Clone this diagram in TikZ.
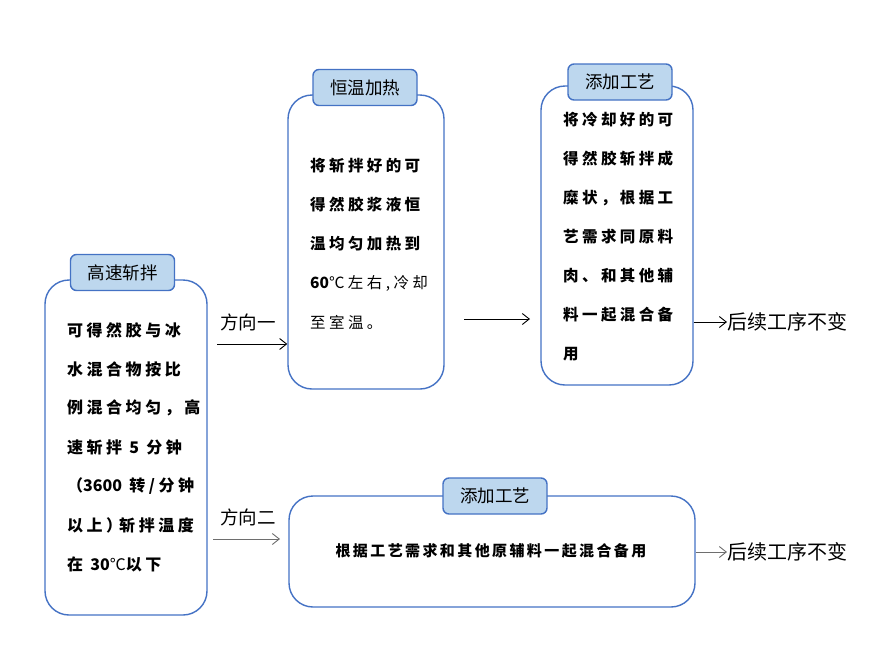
\documentclass[tikz,border=0pt]{standalone}
\usepackage{fontspec}
\usetikzlibrary{arrows.meta}
\newfontfamily\cjk{Noto Sans CJK SC}
\definecolor{boxblue}{RGB}{68,114,196}
\definecolor{tabfill}{RGB}{189,215,238}
\definecolor{arrgray}{RGB}{110,110,110}
\newcommand{\nsp}[1]{{\addfontfeature{LetterSpace=0}#1}}
\tikzset{
  bigbox/.style={draw=boxblue, line width=1.4pt, rounded corners=24pt, inner sep=0pt},
  tab/.style={draw=boxblue, fill=tabfill, line width=1.4pt, rounded corners=6pt, minimum width=104pt, minimum height=36pt, inner sep=0pt, font=\cjk\fontsize{17.5}{20}\selectfont},
  body/.style={anchor=west, inner sep=0pt, font=\cjk\bfseries\fontsize{15.5}{18}\selectfont\addfontfeature{LetterSpace=22}},
  lbl/.style={inner sep=0pt, font=\cjk\fontsize{18.5}{20}\selectfont},
  arr/.style={line width=0.9pt, -{Straight Barb[length=7pt,width=11pt]}},
}
\begin{document}
\begin{tikzpicture}[x=1pt,y=-1pt]
\useasboundingbox (0,0) rectangle (876,651);
% boxes
\node[bigbox, minimum width=162pt, minimum height=335pt] (b1) at (126,447.5) {};
\node[bigbox, minimum width=156pt, minimum height=294pt] (b2) at (366,242) {};
\node[bigbox, minimum width=152pt, minimum height=299pt] (b3) at (617,235.5) {};
\node[bigbox, minimum width=406pt, minimum height=111pt] (b4) at (492,551.5) {};
% tabs
\node[tab] (t1) at (122.5,272.5) {高速斩拌};
\node[tab] (t2) at (365,87.5) {恒温加热};
\node[tab] (t3) at (620,82) {添加工艺};
\node[tab] (t4) at (495,496) {添加工艺};
% left text
\foreach \t [count=\i] in {可得然胶与冰,水混合物按比,例混合均匀，高,速斩拌 \nsp{5} 分钟,（\nsp{3600} 转/分钟,以上）\kern-3pt 斩拌温度,{在 \nsp{30}{\mdseries\nsp{℃}}以下}}
  \node[body, font=\cjk\bfseries\fontsize{16}{18}\selectfont\addfontfeature{LetterSpace=22}] (la\i) at (67,330+39*\i-39) {\t};
% box 2 text
\foreach \t [count=\i] in {将斩拌好的可,得然胶浆液恒,温均匀加热到,{\nsp{60}{\mdseries ℃左右,冷却}},{{\mdseries 至室温。}}}
  \node[body] (lb\i) at (310,166+39*\i-39) {\t};
% box 3 text
\foreach \t [count=\i] in {将冷却好的可,得然胶斩拌成,糜状，根据工,艺需求同原料,肉、和其他辅,料一起混合备,用}
  \node[body] (lc\i) at (563,120+39*\i-39) {\t};
% box 4 text
\node[body, anchor=center, font=\cjk\bfseries\fontsize{15}{18}\selectfont\addfontfeature{LetterSpace=16}] (ld) at (491,551) {根据工艺需求和其他原辅料一起混合备用};
% labels
\node[lbl] (f1) at (248,322) {方向一};
\node[lbl] (f2) at (248,517) {方向二};
\node[lbl, anchor=west, font=\cjk\fontsize{20}{22}\selectfont] (h1) at (727,322) {后续工序不变};
\node[lbl, anchor=west, font=\cjk\fontsize{20}{22}\selectfont] (h2) at (727,552) {后续工序不变};
% arrows
\coordinate (a1s) at (217,344);
\draw[arr] (a1s) -- (b2.west |- a1s);
\coordinate (a2s) at (464,319);
\coordinate (a2e) at (530,319);
\draw[arr] (a2s) -- (a2e);
\coordinate (a3s) at (213,539);
\coordinate (a3e) at (280,539);
\draw[arr, draw=arrgray] (a3s) -- (a3e);
\draw[arr] (b3.east |- h1.west) -- (h1.west);
\draw[arr, draw=arrgray] (b4.east |- h2.west) -- (h2.west);
\end{tikzpicture}
\end{document}
